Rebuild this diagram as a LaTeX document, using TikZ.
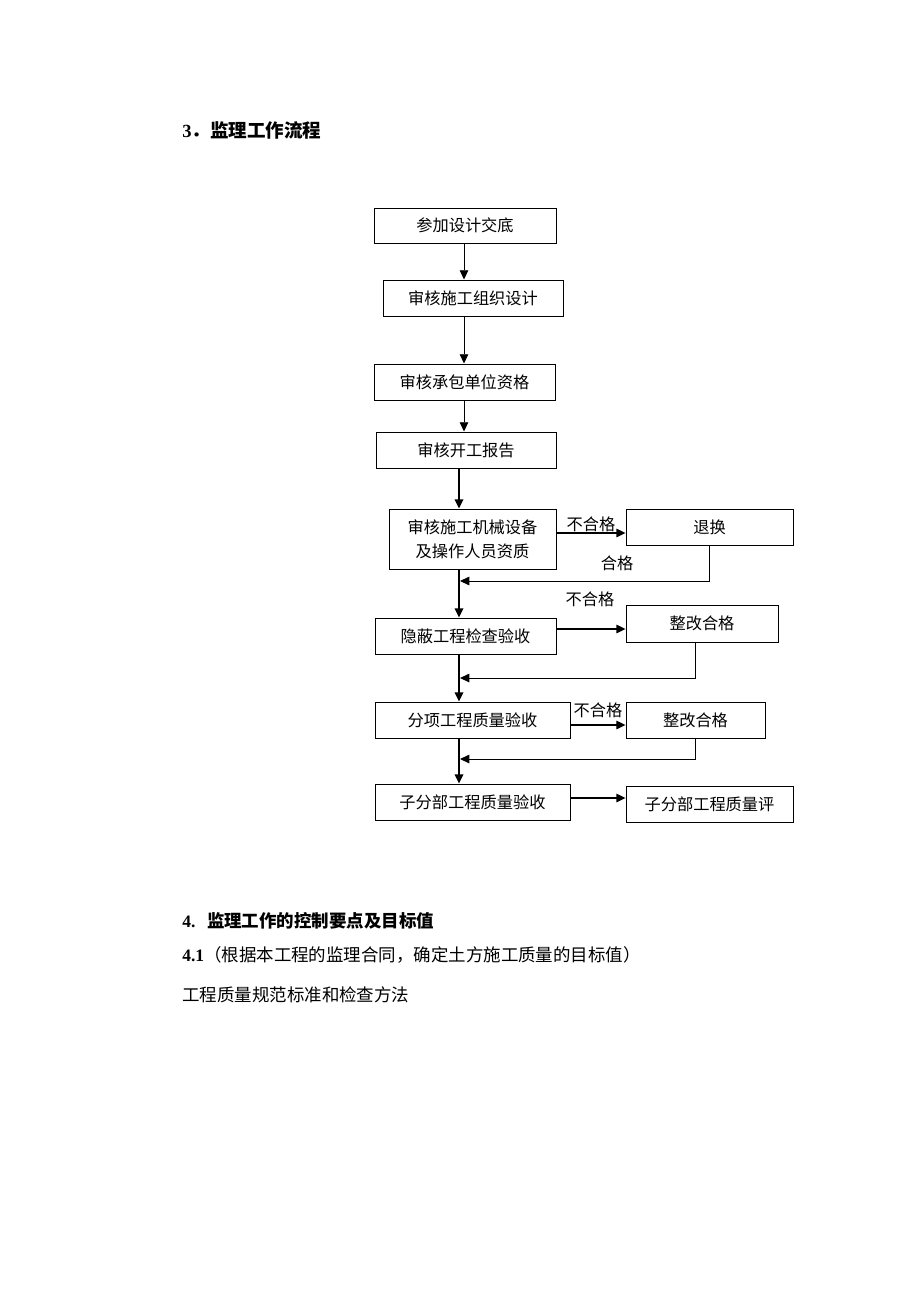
\documentclass[tikz,border=0pt]{standalone}
\usepackage{fontspec}
\setmainfont{Liberation Serif}
\newfontfamily\cjk{Noto Sans CJK SC}
\usetikzlibrary{arrows.meta, positioning}

\begin{document}
\begin{tikzpicture}[
    x=0.647pt, y=-0.647pt,
    stepbox/.style={rectangle, draw, line width=0.6pt, inner sep=0pt, minimum height=23.3pt, align=center, font=\cjk\fontsize{10.5pt}{15.5pt}\selectfont},
    arrow/.style={-{Triangle[length=6pt, width=5.5pt]}, line width=0.6pt},
    mainarrow/.style={arrow, line width=1.1pt},
    sidearrow/.style={arrow, line width=0.9pt},
    lbl/.style={font=\cjk\fontsize{10.5pt}{14pt}\selectfont, inner sep=0pt},
    heading/.style={anchor=west, inner sep=0pt, font=\fontsize{12pt}{14pt}\selectfont},
    para/.style={anchor=west, inner sep=0pt, font=\fontsize{11.3pt}{14pt}\selectfont}
]
\useasboundingbox (0,0) rectangle (920,1302);

% headings and text
\node[heading] (h3) at (182,130) {\textbf{3}{\cjk\bfseries ．监理工作流程}};
\node[para] (h4) at (182,921) {\textbf{4.}\hspace{7.5pt}{\cjk\bfseries 监理工作的控制要点及目标值}};
\node[para] (p41) at (182,955) {\textbf{4.1}{\cjk （根据本工程的监理合同，确定土方施工质量的目标值）}};
\node[para] (p42) at (182,995) {\cjk 工程质量规范标准和检查方法};

% main column
\node[stepbox, minimum width=117.8pt, minimum height=22.6pt] (b1) at (465,225.5) {参加设计交底};
\node[stepbox, minimum width=116.5pt] (b2) at (473,298) {审核施工组织设计};
\node[stepbox, minimum width=117.1pt] (b3) at (464.5,382) {审核承包单位资格};
\node[stepbox, minimum width=116.5pt] (b4) at (466,450) {审核开工报告};
\node[stepbox, minimum width=108pt, minimum height=38.8pt] (b5) at (472.5,539) {审核施工机械设备\\及操作人员资质};
\node[stepbox, minimum width=117.1pt] (b6) at (465.5,636) {隐蔽工程检查验收};
\node[stepbox, minimum width=126.2pt] (b7) at (472.5,720) {分项工程质量验收};
\node[stepbox, minimum width=126.2pt] (b8) at (472.5,802) {子分部工程质量验收};

% side boxes
\node[stepbox, minimum width=108pt] (r1) at (709.5,527) {退换};
\node[stepbox, minimum width=98.3pt, minimum height=23.9pt] (r2) at (702,623.5) {整改合格};
\node[stepbox, minimum width=89.9pt] (r3) at (695.5,720) {整改合格};
\node[stepbox, minimum width=108pt] (r4) at (709.5,804) {子分部工程质量评};

\coordinate (spineA) at (464,0);
\coordinate (spineB) at (459,0);

\draw[arrow] (b1.south -| spineA) -- (b2.north -| spineA);
\draw[arrow] (b2.south -| spineA) -- (b3.north -| spineA);
\draw[arrow] (b3.south -| spineA) -- (b4.north -| spineA);
\draw[mainarrow] (b4.south -| spineB) -- (b5.north -| spineB);
\draw[mainarrow] (b5.south -| spineB) -- (b6.north -| spineB);
\draw[mainarrow] (b6.south -| spineB) -- (b7.north -| spineB);
\draw[mainarrow] (b7.south -| spineB) -- (b8.north -| spineB);

% to the side boxes
\coordinate (rowA) at (0,533);
\coordinate (rowB) at (0,629);
\coordinate (rowC) at (0,725);
\coordinate (rowD) at (0,798);
\draw[sidearrow] (rowA -| b5.east) -- node[lbl, above] {不合格} (rowA -| r1.west);
\draw[sidearrow] (rowB -| b6.east) -- (rowB -| r2.west);
\node[lbl] (nb) at (590,599) {不合格};
\draw[sidearrow] (rowC -| b7.east) -- node[lbl, above=4pt] {不合格} (rowC -| r3.west);
\draw[sidearrow] (rowD -| b8.east) -- (rowD -| r4.west);

% back to the main column
\coordinate (jA) at (460,581);
\coordinate (jB) at (460,678);
\coordinate (jC) at (460,759);
\draw[arrow] (r1.south) |- (jA);
\node[lbl] (ok) at (617,563) {合格};
\draw[arrow] ([xshift=-4.5pt]r2.south) |- (jB);
\draw[arrow] (r3.south) |- (jC);

\end{tikzpicture}
\end{document}
